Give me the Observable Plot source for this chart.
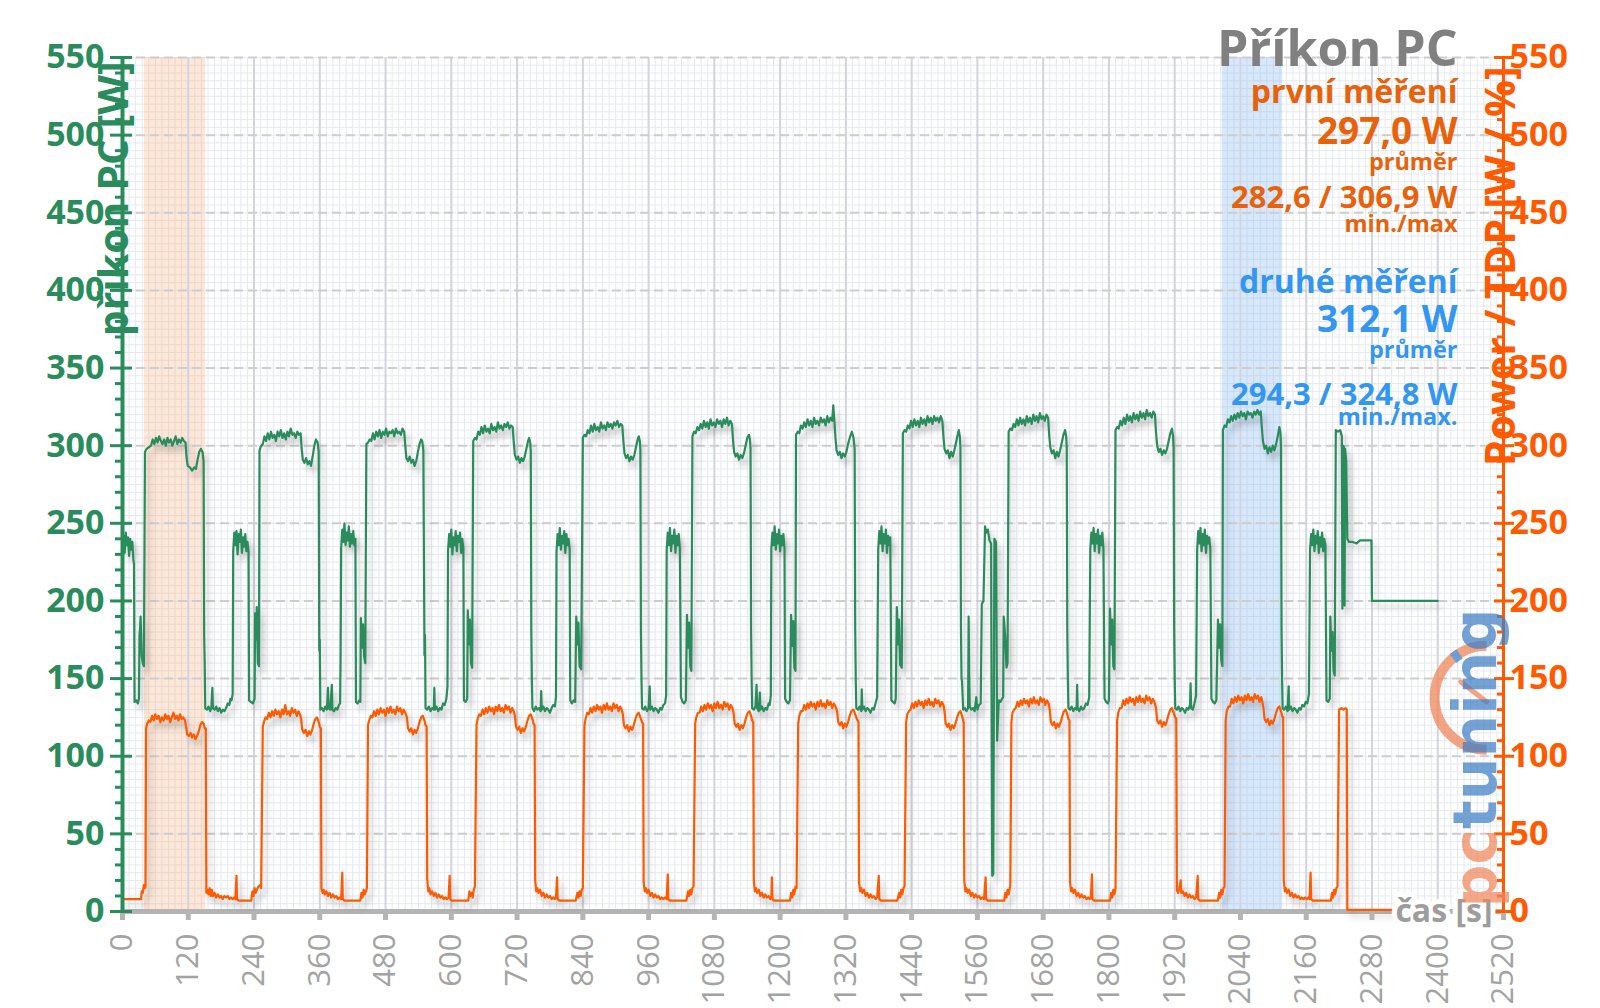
<!DOCTYPE html>
<html><head><meta charset="utf-8">
<script src="https://cdn.jsdelivr.net/npm/d3@7"></script>
<script src="https://cdn.jsdelivr.net/npm/@observablehq/plot@0.6"></script>
<style>
html,body{margin:0;padding:0;background:#fff;}
</style></head><body><div id="chart"></div>
<script>
// ---------- DATA ----------
const xTicks = [0,120,240,360,480,600,720,840,960,1080,1200,1320,1440,1560,1680,1800,1920,2040,2160,2280,2400,2520];
const yTicks = [0,50,100,150,200,250,300,350,400,450,500,550];
const titulek = "Příkon PC";
const osaLevaNazev = "příkon PC [W]";
const osaPravaNazev = "Power / TDP [W / %]";
const osaXNazev = "čas [s]";
const mereni1Texty = ["první měření", "297,0 W", "průměr", "282,6 / 306,9 W", "min./max"];
const mereni2Texty = ["druhé měření", "312,1 W", "průměr", "294,3 / 324,8 W", "min./max."];
const mereniNazvy = ["první měření", "druhé měření"];
const mereniOd = [40, 2007];
const mereniDo = [152, 2117];

// příkon PC [W] (green)
const prikonStart = [[0,238],[2,242],[4,231],[6,244],[8,236],[10,241],[12,229],[14,240],[16,233],[18,238],[20,226],[21,224],[22,135],[25,136],[28,134],[30,137],[31,178],[32,182],[33,190],[35,165],[37,160],[39,158]];
const prikonC01 = [[41,296],[44,298],[48,299],[52,300],[55,304],[58,301],[61,305],[64,302],[67,306],[70,303],[73,301],[76,304],[79,300],[82,305],[85,302],[88,304],[91,300],[94,303],[97,306],[100,301],[103,304],[106,302],[109,305],[112,303],[115,302],[117,292],[119,287],[123,286],[127,284],[131,286],[134,285],[137,291],[140,296],[143,298],[146,296],[148,290],[149,178],[150,160],[151,131],[154,130],[157,132],[160,129],[162,131],[164,144],[165,131],[168,130],[171,132],[174,129],[177,131],[180,128],[183,130],[186,129],[189,131],[192,134],[195,133],[197,137],[199,136],[201,140],[202,232],[204,244],[206,236],[208,245],[210,230],[212,243],[214,238],[216,246],[218,231],[220,241],[222,235],[224,243],[226,232],[228,238],[230,232],[231,136],[234,135],[238,134],[241,137],[242,192],[244,175],[245,196],[247,160],[249,158]];
const prikonC02 = [[250,297],[253,300],[256,301],[259,306],[262,303],[265,308],[268,304],[271,309],[274,305],[277,307],[280,303],[283,309],[286,306],[289,310],[292,305],[295,308],[298,304],[301,309],[304,306],[307,311],[310,307],[313,308],[316,305],[319,309],[322,307],[325,308],[327,298],[329,291],[332,289],[335,292],[338,288],[341,290],[344,287],[347,293],[350,300],[353,304],[356,302],[358,296],[359,168],[360,175],[361,130],[364,131],[367,129],[370,132],[373,130],[375,144],[376,131],[379,130],[382,146],[383,130],[386,129],[389,131],[392,130],[395,133],[397,134],[398,164],[399,234],[401,246],[403,238],[405,250],[407,236],[409,244],[411,239],[413,248],[415,235],[417,243],[419,237],[421,245],[423,236],[425,240],[426,135],[429,134],[432,136],[434,135],[435,189],[437,170],[439,185],[441,164],[443,160]];
const prikonC03 = [[445,301],[448,302],[451,304],[454,303],[457,308],[460,304],[463,309],[466,306],[469,310],[472,305],[475,309],[478,307],[481,311],[484,306],[487,309],[490,308],[493,310],[496,306],[499,311],[502,308],[505,309],[508,307],[511,311],[514,309],[516,300],[518,292],[521,290],[524,293],[527,289],[530,291],[533,287],[536,290],[539,296],[542,301],[545,304],[547,303],[549,297],[551,165],[552,178],[553,131],[556,130],[559,132],[562,129],[565,131],[568,130],[569,144],[570,130],[573,132],[576,129],[579,131],[582,130],[585,134],[588,133],[591,137],[593,145],[594,232],[596,243],[598,235],[600,246],[602,230],[604,241],[606,236],[608,245],[610,232],[612,242],[614,238],[616,244],[618,231],[620,240],[622,234],[623,136],[626,135],[629,137],[630,194],[632,172],[634,188],[636,160],[638,157]];
const prikonC04 = [[640,303],[643,305],[646,304],[649,309],[652,307],[655,312],[658,308],[661,313],[664,309],[667,311],[670,308],[673,314],[676,310],[679,312],[682,309],[685,315],[688,311],[691,313],[694,310],[697,314],[700,312],[703,315],[706,311],[709,313],[712,312],[714,302],[716,294],[719,291],[722,293],[725,289],[728,292],[731,290],[734,293],[737,298],[740,303],[742,305],[744,302],[745,296],[746,180],[747,150],[748,131],[751,129],[754,132],[757,130],[760,131],[763,129],[764,142],[765,130],[768,132],[771,129],[774,131],[777,130],[780,128],[783,131],[786,133],[789,132],[791,138],[792,232],[794,243],[796,236],[798,247],[800,233],[802,242],[804,237],[806,245],[808,231],[810,243],[812,236],[814,240],[816,233],[817,136],[820,134],[823,136],[826,135],[828,190],[830,172],[832,186],[834,158],[837,156]];
const prikonC05 = [[840,305],[843,307],[846,306],[849,310],[852,308],[855,313],[858,309],[861,314],[864,310],[867,312],[870,309],[873,315],[876,311],[879,313],[882,310],[885,315],[888,312],[891,314],[894,311],[897,315],[900,313],[903,316],[906,312],[909,314],[912,313],[914,303],[916,295],[919,292],[922,294],[925,290],[928,293],[931,291],[934,294],[937,299],[940,304],[942,306],[944,303],[945,297],[946,180],[947,150],[948,131],[951,130],[954,132],[957,129],[960,131],[962,145],[963,130],[966,132],[969,129],[972,131],[975,130],[978,128],[981,131],[984,130],[987,133],[990,134],[992,139],[993,233],[995,244],[997,236],[999,247],[1001,232],[1003,242],[1005,237],[1007,246],[1009,231],[1011,242],[1013,236],[1015,243],[1017,234],[1019,138],[1022,135],[1025,134],[1028,136],[1030,191],[1032,170],[1034,186],[1036,158],[1038,155]];
const prikonC06 = [[1040,306],[1043,309],[1046,308],[1049,312],[1052,310],[1055,314],[1058,311],[1061,316],[1064,312],[1067,315],[1070,311],[1073,317],[1076,313],[1079,315],[1082,312],[1085,317],[1088,314],[1091,316],[1094,312],[1097,317],[1100,314],[1103,318],[1106,313],[1109,316],[1112,314],[1114,304],[1116,296],[1119,293],[1122,295],[1125,291],[1128,294],[1131,292],[1134,295],[1137,300],[1140,305],[1143,307],[1145,304],[1146,298],[1147,182],[1148,150],[1149,131],[1152,130],[1155,132],[1157,146],[1158,131],[1161,129],[1163,141],[1164,130],[1167,132],[1170,129],[1173,131],[1176,130],[1179,134],[1181,133],[1183,139],[1184,234],[1186,244],[1188,236],[1190,248],[1192,233],[1194,243],[1196,237],[1198,246],[1200,232],[1202,242],[1204,236],[1206,243],[1208,234],[1209,137],[1212,135],[1215,134],[1218,136],[1220,191],[1222,171],[1224,187],[1226,157],[1228,155]];
const prikonC07 = [[1229,307],[1232,309],[1235,308],[1238,313],[1241,311],[1244,315],[1247,312],[1250,317],[1253,313],[1256,316],[1259,312],[1262,318],[1265,314],[1268,316],[1271,313],[1274,318],[1277,315],[1280,317],[1283,313],[1286,319],[1289,315],[1292,318],[1295,316],[1297,326],[1299,316],[1301,305],[1303,297],[1306,294],[1309,296],[1312,292],[1315,295],[1318,293],[1321,296],[1324,301],[1327,305],[1331,309],[1334,305],[1336,298],[1337,182],[1338,150],[1339,131],[1342,130],[1345,132],[1348,129],[1349,143],[1350,130],[1353,132],[1356,129],[1359,131],[1362,130],[1365,128],[1368,131],[1371,130],[1374,134],[1377,138],[1379,233],[1381,245],[1383,237],[1385,248],[1387,232],[1389,243],[1391,237],[1393,246],[1395,231],[1397,242],[1399,236],[1401,241],[1403,136],[1406,135],[1409,134],[1411,137],[1413,196],[1415,172],[1417,188],[1419,159],[1422,157]];
const prikonC08 = [[1424,308],[1427,310],[1430,309],[1433,313],[1436,311],[1439,316],[1442,312],[1445,317],[1448,313],[1451,316],[1454,312],[1457,318],[1460,314],[1463,317],[1466,313],[1469,319],[1472,315],[1475,318],[1478,314],[1481,319],[1484,316],[1487,318],[1490,315],[1493,319],[1496,316],[1498,306],[1500,298],[1503,295],[1506,297],[1509,292],[1512,296],[1515,293],[1518,297],[1521,302],[1524,307],[1526,310],[1528,306],[1529,299],[1530,182],[1531,150],[1532,148],[1534,130],[1537,131],[1540,129],[1543,131],[1544,190],[1545,150],[1546,132],[1549,130],[1552,131],[1555,129],[1558,138],[1560,130],[1563,133],[1566,134],[1568,198],[1571,200],[1574,248],[1576,244],[1579,246],[1582,239],[1585,237],[1587,23],[1589,24],[1591,240],[1594,238],[1596,110],[1599,136],[1602,135],[1605,137],[1607,138],[1608,190],[1611,176],[1613,157],[1615,160]];
const prikonC09 = [[1617,309],[1620,311],[1623,310],[1626,314],[1629,312],[1632,317],[1635,313],[1638,318],[1641,314],[1644,317],[1647,313],[1650,319],[1653,315],[1656,318],[1659,314],[1662,320],[1665,316],[1668,319],[1671,315],[1674,321],[1677,317],[1680,319],[1683,316],[1686,320],[1689,318],[1691,307],[1693,299],[1696,295],[1699,297],[1702,292],[1705,296],[1708,293],[1711,297],[1714,302],[1717,307],[1720,310],[1722,306],[1723,299],[1724,182],[1725,150],[1726,131],[1729,130],[1732,132],[1735,129],[1738,131],[1741,130],[1742,146],[1743,131],[1746,129],[1749,132],[1752,130],[1755,131],[1758,134],[1761,133],[1764,138],[1766,233],[1768,244],[1770,237],[1772,247],[1774,232],[1776,243],[1778,237],[1780,246],[1782,231],[1784,242],[1786,236],[1788,244],[1790,233],[1792,137],[1795,135],[1798,134],[1800,136],[1802,195],[1804,172],[1806,188],[1808,158],[1810,156]];
const prikonC10 = [[1812,310],[1815,312],[1818,311],[1821,316],[1824,313],[1827,318],[1830,314],[1833,320],[1836,316],[1839,319],[1842,315],[1845,321],[1848,317],[1851,320],[1854,316],[1857,322],[1860,318],[1863,321],[1866,317],[1869,323],[1872,319],[1875,321],[1878,318],[1881,322],[1884,320],[1886,308],[1888,300],[1891,296],[1894,298],[1897,294],[1900,297],[1903,295],[1906,298],[1909,303],[1912,308],[1915,311],[1917,306],[1918,299],[1919,182],[1920,150],[1921,131],[1924,130],[1927,132],[1930,129],[1933,131],[1936,130],[1939,128],[1942,131],[1945,130],[1948,133],[1949,147],[1950,131],[1953,130],[1956,134],[1959,139],[1961,233],[1963,245],[1965,237],[1967,247],[1969,232],[1971,243],[1973,236],[1975,246],[1977,231],[1979,242],[1981,237],[1983,241],[1985,234],[1987,137],[1990,135],[1993,134],[1996,136],[1999,188],[2001,170],[2003,185],[2005,162],[2007,158]];
const prikonC11 = [[2008,310],[2011,313],[2014,312],[2017,317],[2020,315],[2023,319],[2026,316],[2029,320],[2032,317],[2035,321],[2038,318],[2041,322],[2044,319],[2047,321],[2050,317],[2053,322],[2056,320],[2059,321],[2062,318],[2065,322],[2068,320],[2071,323],[2074,320],[2077,322],[2079,312],[2081,303],[2084,298],[2087,300],[2090,295],[2093,299],[2096,296],[2099,300],[2102,297],[2105,301],[2108,306],[2111,312],[2113,308],[2114,300],[2115,182],[2116,150],[2117,131],[2120,130],[2123,132],[2126,129],[2128,145],[2129,130],[2132,132],[2135,129],[2138,131],[2141,130],[2144,128],[2147,131],[2150,130],[2153,133],[2156,132],[2159,135],[2162,134],[2165,140],[2167,233],[2169,243],[2171,236],[2173,246],[2175,232],[2177,242],[2179,237],[2181,245],[2183,231],[2185,241],[2187,235],[2189,244],[2191,232],[2193,240],[2195,236],[2197,136],[2200,135],[2203,137],[2204,190],[2206,168],[2208,180],[2210,155],[2212,152]];
const prikonC12 = [[2214,310],[2218,309],[2222,310],[2225,306],[2226,195],[2227,300],[2229,299],[2230,197],[2231,298],[2233,290],[2235,240],[2238,238],[2245,238],[2252,237],[2258,239],[2265,239],[2279,239],[2280,200],[2320,200],[2360,200],[2400,200]];

// Power / TDP [W] (orange)
const powerStart = [[0,8],[10,8],[20,8],[30,8],[34,8],[35,13],[37,12],[39,17],[41,15],[42,16]];
const powerC01 = [[43,118],[45,121],[48,123],[51,122],[54,126],[57,123],[60,127],[63,124],[66,126],[69,122],[72,125],[75,123],[78,127],[81,124],[84,126],[87,122],[90,125],[93,128],[96,124],[99,126],[102,123],[105,127],[108,124],[111,125],[114,123],[116,119],[118,114],[121,113],[124,115],[127,112],[130,114],[133,111],[136,113],[139,116],[142,120],[145,122],[148,121],[150,118],[152,118],[153,12],[155,14],[157,11],[159,15],[161,10],[163,14],[165,10],[168,12],[171,9],[174,11],[177,9],[180,10],[183,8],[186,10],[189,9],[192,10],[195,8],[198,9],[201,8],[204,9],[206,8],[208,23],[209,8],[212,7],[216,7],[220,7],[224,7],[228,7],[232,7],[235,7],[237,13],[239,10],[241,15],[243,12],[245,14],[248,16],[251,17],[253,15]];
const powerC02 = [[256,119],[258,122],[261,125],[264,124],[267,128],[270,125],[273,129],[276,126],[279,130],[282,127],[285,129],[288,125],[291,130],[294,127],[297,133],[300,127],[303,129],[306,126],[309,131],[312,128],[315,130],[318,126],[321,129],[324,127],[326,124],[328,117],[331,115],[334,117],[337,113],[340,116],[343,114],[346,117],[349,121],[352,124],[355,125],[358,122],[360,119],[362,118],[363,15],[365,12],[367,14],[369,11],[372,13],[375,10],[378,12],[381,9],[384,11],[387,9],[390,10],[393,8],[396,9],[399,8],[401,25],[402,8],[405,7],[410,7],[415,7],[420,7],[425,7],[430,7],[434,7],[436,12],[438,9],[440,14],[442,11],[444,13],[446,15]];
const powerC03 = [[448,120],[450,123],[453,126],[456,125],[459,129],[462,126],[465,130],[468,127],[471,131],[474,128],[477,130],[480,126],[483,131],[486,128],[489,132],[492,128],[495,130],[498,127],[501,132],[504,129],[507,131],[510,127],[513,130],[516,128],[519,125],[521,118],[524,116],[527,118],[530,114],[533,117],[536,115],[539,118],[542,122],[545,125],[548,126],[551,123],[553,120],[555,119],[556,21],[558,13],[560,15],[562,11],[565,13],[568,10],[571,12],[574,9],[577,11],[580,9],[583,10],[586,8],[589,9],[592,8],[595,9],[597,23],[598,8],[601,7],[606,7],[611,7],[616,7],[621,7],[626,7],[631,7],[633,13],[635,10],[637,12],[639,9],[641,14],[643,16]];
const powerC04 = [[646,120],[648,124],[651,127],[654,126],[657,130],[660,127],[663,131],[666,128],[669,132],[672,129],[675,131],[678,127],[681,132],[684,129],[687,133],[690,129],[693,131],[696,128],[699,133],[702,130],[705,132],[708,128],[711,131],[714,129],[716,126],[718,119],[721,117],[724,119],[727,115],[730,118],[733,116],[736,119],[739,123],[742,126],[745,127],[748,124],[750,121],[752,120],[753,20],[755,13],[757,15],[759,12],[762,14],[765,10],[768,12],[771,9],[774,11],[777,9],[780,10],[783,8],[786,9],[789,8],[791,9],[793,22],[794,8],[797,7],[802,7],[807,7],[812,7],[817,7],[822,7],[827,7],[830,12],[832,9],[834,13],[836,10],[838,14],[840,15]];
const powerC05 = [[843,120],[845,124],[848,128],[851,127],[854,131],[857,128],[860,132],[863,129],[866,133],[869,130],[872,132],[875,128],[878,133],[881,130],[884,134],[887,130],[890,132],[893,129],[896,134],[899,131],[902,133],[905,129],[908,132],[911,130],[913,127],[915,120],[918,118],[921,120],[924,116],[927,119],[930,117],[933,120],[936,124],[939,127],[942,128],[945,125],[948,122],[950,121],[951,19],[953,13],[955,15],[957,12],[960,14],[963,10],[966,12],[969,9],[972,11],[975,9],[978,10],[981,8],[984,9],[987,8],[990,9],[993,8],[995,24],[996,8],[999,7],[1004,7],[1009,7],[1014,7],[1019,7],[1024,7],[1029,7],[1032,13],[1034,10],[1036,14],[1038,11],[1040,15],[1042,16]];
const powerC06 = [[1045,121],[1047,125],[1050,128],[1053,128],[1056,132],[1059,129],[1062,133],[1065,130],[1068,134],[1071,131],[1074,133],[1077,129],[1080,134],[1083,131],[1086,135],[1089,131],[1092,133],[1095,130],[1098,135],[1101,132],[1104,134],[1107,130],[1110,133],[1113,131],[1115,128],[1117,121],[1120,119],[1123,121],[1126,117],[1129,120],[1132,118],[1135,121],[1138,125],[1141,128],[1144,129],[1147,126],[1149,123],[1151,122],[1152,20],[1154,13],[1156,15],[1158,12],[1161,14],[1164,10],[1167,12],[1170,9],[1173,11],[1176,9],[1179,10],[1182,8],[1184,9],[1185,22],[1186,8],[1189,7],[1194,7],[1199,7],[1204,7],[1209,7],[1214,7],[1218,7],[1220,12],[1222,9],[1224,14],[1226,11],[1228,16],[1230,15]];
const powerC07 = [[1233,121],[1235,126],[1238,129],[1241,129],[1244,133],[1247,130],[1250,134],[1253,131],[1256,135],[1259,132],[1262,134],[1265,130],[1268,135],[1271,132],[1274,136],[1277,132],[1280,134],[1283,131],[1286,136],[1289,133],[1292,135],[1295,131],[1298,134],[1301,132],[1304,129],[1306,122],[1309,120],[1312,122],[1315,118],[1318,121],[1321,119],[1324,122],[1327,126],[1330,129],[1334,130],[1337,127],[1340,124],[1343,122],[1344,19],[1346,13],[1348,15],[1350,12],[1353,14],[1356,10],[1359,12],[1362,9],[1365,11],[1368,9],[1371,10],[1374,8],[1377,9],[1380,23],[1381,8],[1384,7],[1389,7],[1394,7],[1399,7],[1404,7],[1409,7],[1414,7],[1417,12],[1419,9],[1421,14],[1423,11],[1425,15],[1427,16]];
const powerC08 = [[1430,122],[1432,127],[1435,129],[1438,130],[1441,134],[1444,131],[1447,135],[1450,132],[1453,136],[1456,133],[1459,135],[1462,131],[1465,136],[1468,133],[1471,137],[1474,133],[1477,135],[1480,132],[1483,137],[1486,134],[1489,136],[1492,132],[1495,135],[1498,133],[1500,129],[1502,121],[1505,119],[1508,121],[1511,117],[1514,120],[1517,118],[1520,121],[1523,125],[1526,128],[1529,129],[1532,126],[1534,123],[1535,122],[1536,20],[1538,13],[1540,15],[1542,12],[1545,14],[1548,10],[1551,12],[1554,9],[1557,11],[1560,9],[1563,10],[1566,8],[1569,9],[1572,8],[1575,22],[1576,8],[1579,7],[1584,7],[1589,7],[1594,7],[1599,7],[1604,7],[1609,7],[1611,12],[1613,9],[1615,14],[1617,11],[1619,15],[1620,16]];
const powerC09 = [[1622,122],[1624,128],[1627,130],[1630,131],[1633,135],[1636,132],[1639,136],[1642,133],[1645,137],[1648,134],[1651,136],[1654,132],[1657,137],[1660,134],[1663,138],[1666,134],[1669,136],[1672,133],[1675,138],[1678,135],[1681,137],[1684,133],[1687,136],[1690,134],[1692,130],[1694,122],[1697,120],[1700,122],[1703,118],[1706,121],[1709,119],[1712,122],[1715,126],[1718,129],[1721,130],[1724,127],[1726,124],[1728,123],[1729,19],[1731,13],[1733,15],[1735,12],[1738,14],[1741,10],[1744,12],[1747,9],[1750,11],[1753,9],[1756,10],[1759,8],[1762,9],[1765,8],[1767,9],[1769,24],[1770,8],[1773,7],[1778,7],[1783,7],[1788,7],[1793,7],[1798,7],[1802,7],[1804,12],[1806,9],[1808,14],[1810,11],[1812,15]];
const powerC10 = [[1815,123],[1817,128],[1820,131],[1823,131],[1826,136],[1829,133],[1832,137],[1835,134],[1838,138],[1841,135],[1844,137],[1847,133],[1850,138],[1853,135],[1856,139],[1859,135],[1862,137],[1865,134],[1868,139],[1871,136],[1874,138],[1877,134],[1880,137],[1883,135],[1886,131],[1888,123],[1891,121],[1894,123],[1897,119],[1900,122],[1903,120],[1906,123],[1909,127],[1912,130],[1915,131],[1918,128],[1921,125],[1923,124],[1924,14],[1926,12],[1928,14],[1931,20],[1932,12],[1935,13],[1938,10],[1941,12],[1944,9],[1947,11],[1950,9],[1953,10],[1956,8],[1959,9],[1962,23],[1963,8],[1966,7],[1971,7],[1976,7],[1981,7],[1986,7],[1991,7],[1996,7],[1999,7],[2001,12],[2003,9],[2005,14],[2007,11],[2009,15],[2011,16]];
const powerC11 = [[2013,123],[2015,129],[2018,132],[2021,132],[2024,137],[2027,134],[2030,138],[2033,135],[2036,139],[2039,136],[2042,138],[2045,134],[2048,139],[2051,136],[2054,140],[2057,136],[2060,138],[2063,135],[2066,140],[2069,137],[2072,139],[2075,135],[2078,138],[2080,135],[2082,131],[2084,124],[2087,122],[2090,124],[2093,120],[2096,123],[2099,121],[2102,124],[2105,128],[2108,131],[2111,132],[2114,129],[2116,126],[2118,125],[2119,20],[2121,13],[2123,15],[2125,12],[2128,14],[2131,10],[2134,12],[2137,9],[2140,11],[2143,9],[2146,10],[2149,8],[2152,9],[2155,8],[2158,9],[2161,8],[2164,9],[2166,8],[2168,25],[2169,8],[2172,7],[2177,7],[2182,7],[2187,7],[2192,7],[2197,7],[2202,7],[2205,7],[2207,12],[2209,9],[2211,14],[2213,11],[2215,15],[2217,16]];
const powerC12 = [[2220,130],[2224,131],[2228,130],[2232,131],[2234,130],[2235,1],[2300,1],[2400,1]];

// ---------- CHART ----------
const green = "#2a8c5c", orange = "#ff5a00", annOrange = "#e8620c", annBlue = "#3396f0", axisGray = "#b4b4b4";
const toObj = arrs => arrs.flat().map(([t, v]) => ({t, v}));
const prikon = toObj([prikonStart, prikonC01, prikonC02, prikonC03, prikonC04, prikonC05, prikonC06, prikonC07, prikonC08, prikonC09, prikonC10, prikonC11, prikonC12]);
const power = toObj([powerStart, powerC01, powerC02, powerC03, powerC04, powerC05, powerC06, powerC07, powerC08, powerC09, powerC10, powerC11, powerC12]);
const pasma = mereniNazvy.map((n, i) => ({n, od: mereniOd[i], do: mereniDo[i]}));

const xFine = d3.range(0, 2521, 12);
const yFine = d3.range(0, 551, 5);
const yMinor = d3.range(0, 551, 10).filter(v => v % 50 !== 0);

const annSizes = [32, 37, 23.5, 31, 23.5];
const ann1Dy = [45, 86, 112, 150, 174];
const ann2Dy = [235, 274, 300, 347, 367];

const annMarks = [];
mereni1Texty.forEach((s, i) => annMarks.push(Plot.text([s], {text: d => d, frameAnchor: "top-right", dx: -46, dy: ann1Dy[i], textAnchor: "end", lineAnchor: "bottom", fontSize: annSizes[i], fontWeight: "bold", fill: annOrange})));
mereni2Texty.forEach((s, i) => annMarks.push(Plot.text([s], {text: d => d, frameAnchor: "top-right", dx: -46, dy: ann2Dy[i], textAnchor: "end", lineAnchor: "bottom", fontSize: annSizes[i], fontWeight: "bold", fill: annBlue})));

const chart = Plot.plot({
  width: 1600, height: 1008,
  marginLeft: 122, marginRight: 97, marginTop: 57, marginBottom: 97,
  style: {fontFamily: "'Open Sans', 'Noto Sans', sans-serif", background: "white", overflow: "visible"},
  x: {domain: [0, 2520]},
  y: {domain: [0, 550]},
  marks: [
    Plot.gridX(xFine, {stroke: "#e6e9f1", strokeOpacity: 1, strokeWidth: 1}),
    Plot.gridY(yFine, {stroke: "#e6e9f1", strokeOpacity: 1, strokeWidth: 1}),
    Plot.rect(pasma.slice(0, 1), {x1: "od", x2: "do", fill: "#f9a66f", fillOpacity: 0.27}),
    Plot.rect(pasma.slice(1, 2), {x1: "od", x2: "do", fill: "#7ab4f3", fillOpacity: 0.3}),
    Plot.gridX(xTicks, {stroke: "#d2d4de", strokeOpacity: 1, strokeWidth: 2}),
    Plot.gridY(yTicks.slice(1), {stroke: "#cdcdcd", strokeOpacity: 1, strokeWidth: 2, strokeDasharray: "9,5"}),
    Plot.ruleY([0], {stroke: axisGray, strokeWidth: 5}),
    Plot.line(power, {x: "t", y: "v", stroke: orange, strokeWidth: 2.2}),
    Plot.line(prikon, {x: "t", y: "v", stroke: green, strokeWidth: 2.2}),
    Plot.ruleX([0], {stroke: green, strokeWidth: 4}),
    Plot.ruleX([2520], {stroke: orange, strokeWidth: 3}),
    Plot.axisX(xTicks, {tickRotate: -90, tickSize: 9, tickPadding: 13, fontSize: 31, fill: "#a3a3a3", stroke: axisGray, strokeWidth: 5, tickFormat: d => String(d), label: null}),
    Plot.axisY(yTicks, {anchor: "left", tickSize: 12, tickPadding: 6, fontSize: 34, fontWeight: "bold", fill: green, stroke: green, strokeWidth: 3, tickFormat: d => String(d), label: null}),
    Plot.axisY(yTicks, {anchor: "left", tickSize: 10, dx: 10, stroke: green, strokeWidth: 3, tickFormat: () => "", label: null}),
    Plot.axisY(yMinor, {anchor: "left", tickSize: 7, stroke: green, strokeWidth: 3, tickFormat: () => "", label: null}),
    Plot.axisY(yTicks, {anchor: "right", tickSize: 10, tickPadding: -4, fontSize: 34, fontWeight: "bold", fill: orange, stroke: orange, strokeWidth: 3, tickFormat: d => String(d), label: null}),
    Plot.axisY(yTicks, {anchor: "right", tickSize: 10, dx: -10, stroke: orange, strokeWidth: 3, tickFormat: () => "", label: null}),
    Plot.axisY(yMinor, {anchor: "right", tickSize: 7, dx: -7, stroke: orange, strokeWidth: 3, tickFormat: () => "", label: null}),
    // axis titles
    Plot.text([osaLevaNazev], {text: d => d, frameAnchor: "top-left", rotate: -90, textAnchor: "end", lineAnchor: "bottom", dx: 5, dy: 4, fontSize: 41, fontWeight: "bold", fill: green}),
    Plot.text([osaPravaNazev], {text: d => d, frameAnchor: "top-right", rotate: -90, textAnchor: "end", lineAnchor: "bottom", dx: 11, dy: 9, fontSize: 41, fontWeight: "bold", fill: orange}),
    Plot.text([osaXNazev], {text: d => d, frameAnchor: "bottom-right", textAnchor: "end", lineAnchor: "middle", dx: -11, dy: 0, fontSize: 32, fontWeight: "bold", fill: "#9d9d9d", stroke: "white", strokeWidth: 10, paintOrder: "stroke", strokeLinejoin: "round"}),
    // logo
    Plot.text(["pctuning"], {text: d => d, frameAnchor: "bottom-right", rotate: -90, textAnchor: "start", lineAnchor: "bottom", dx: -8, dy: -4, fontSize: 60, fontWeight: "bold", fill: "#3f7fc6", fontFamily: "'DejaVu Sans', sans-serif"}),
    // title
    Plot.text([titulek], {text: d => d, frameAnchor: "top-right", dx: -46, dy: 8, textAnchor: "end", lineAnchor: "bottom", fontSize: 50, fontWeight: "bold", fill: "#808080"}),
    ...annMarks
  ]
});
document.getElementById("chart").appendChild(chart);

// shadows on lines
chart.querySelectorAll('g[aria-label="line"]').forEach(g => { g.style.filter = "drop-shadow(4px 6px 3px rgba(0,0,0,0.22))"; });

// logo colouring + gauge
const logo = Array.from(chart.querySelectorAll("text")).find(t => t.textContent === "pctuning");
if (logo) {
  logo.textContent = "";
  logo.setAttribute("opacity", "0.72");
  const ns = "http://www.w3.org/2000/svg";
  const t1 = document.createElementNS(ns, "tspan"); t1.textContent = "pc"; t1.setAttribute("fill", "#f0875a");
  const t2 = document.createElementNS(ns, "tspan"); t2.textContent = "tuning"; t2.setAttribute("fill", "#3f7fc6");
  logo.appendChild(t1); logo.appendChild(t2);
  const r = logo.getBoundingClientRect(), s = chart.getBoundingClientRect();
  const cx = r.left - s.left + 0.78 * r.width, cy = r.top - s.top + 0.31 * r.height, rad = 52;
  const g = document.createElementNS(ns, "g"); g.setAttribute("opacity", "0.75");
  const arc = document.createElementNS(ns, "path");
  arc.setAttribute("d", `M${cx},${cy - rad}A${rad},${rad} 0 0 0 ${cx},${cy + rad}`);
  arc.setAttribute("fill", "none"); arc.setAttribute("stroke", "#f0875a"); arc.setAttribute("stroke-width", 10);
  const needle = document.createElementNS(ns, "path");
  needle.setAttribute("d", `M${cx},${cy + 4}L${cx - 26},${cy - 16}`);
  needle.setAttribute("stroke", "#f0875a"); needle.setAttribute("stroke-width", 5); needle.setAttribute("stroke-linecap", "round");
  const a = -2.2, tick = document.createElementNS(ns, "path");
  tick.setAttribute("d", `M${cx + (rad - 6) * Math.cos(a)},${cy + (rad - 6) * Math.sin(a)}L${cx + (rad + 5) * Math.cos(a)},${cy + (rad + 5) * Math.sin(a)}`);
  tick.setAttribute("stroke", "#3f7fc6"); tick.setAttribute("stroke-width", 8);
  g.appendChild(arc); g.appendChild(needle); g.appendChild(tick);
  logo.parentNode.insertBefore(g, logo);
}
</script></body></html>
